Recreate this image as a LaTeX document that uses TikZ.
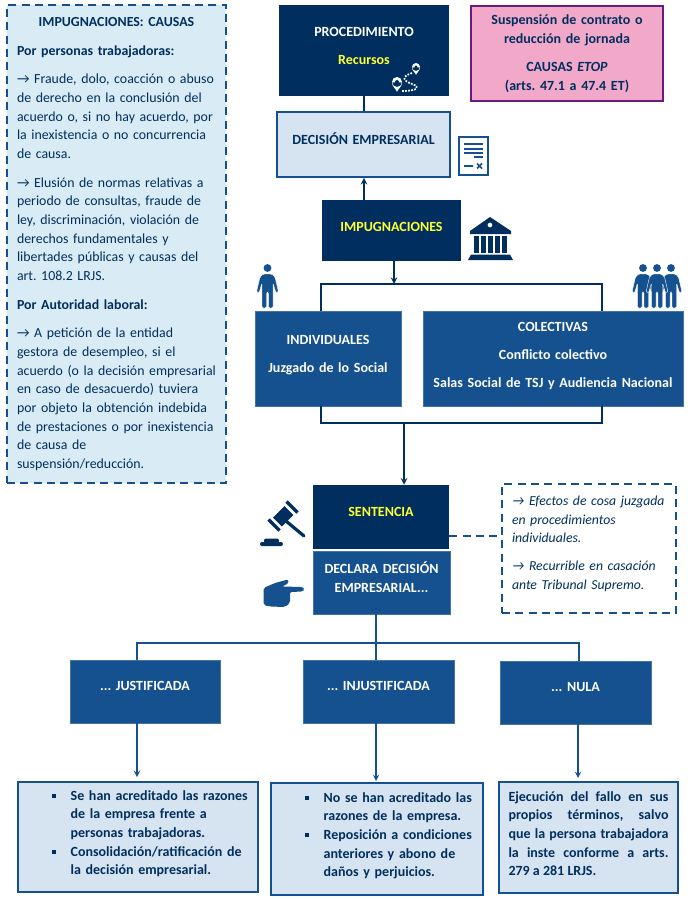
\documentclass[tikz,border=0pt]{standalone}
\usepackage{fontspec}
\setmainfont{Carlito}
\frenchspacing
\usetikzlibrary{positioning}
\definecolor{navy}{HTML}{002F5F}
\definecolor{midblue}{HTML}{15508F}
\definecolor{paleblue}{HTML}{D6E4F2}
\definecolor{skyblue}{HTML}{D9EBF5}
\definecolor{rosa}{HTML}{F2A9C9}
\definecolor{morado}{HTML}{6A1B80}
\definecolor{amarillo}{HTML}{FFFF33}
\tikzset{
  size/.style 2 args={minimum width=#1*0.75pt,minimum height=#2*0.75pt,text width=#1*0.75pt-4pt,inner xsep=2pt,inner ysep=0pt},
  lift/.style={execute at end node={\par\vspace*{#1}}},
  base/.style={align=center,font=\fontsize{10.5}{14}\selectfont\bfseries},
  darkbox/.style={base,fill=navy,text=white},
  midbox/.style={base,fill=midblue,draw=midblue!80,line width=0.6pt,text=white},
  palebox/.style={base,fill=paleblue,draw=midblue,line width=1.3pt,text=navy},
  notebox/.style={align=left,font=\fontsize{10.4}{14}\selectfont,text=navy,draw=midblue,dashed,line width=1.3pt,dash pattern=on 6pt off 4pt},
  line/.style={draw=navy,line width=1.2pt,>=stealth},
  thinline/.style={draw=midblue,line width=1.1pt,>=stealth},
  persona/.pic={
    \fill (0,0) circle (3.9);
    \path[fill,draw=white,line width=0.3pt,rounded corners=1pt] (-4.5,6) -- (4.5,6) -- (7.5,9) -- (11,24) -- (8.5,25) -- (5.5,15) -- (5.5,40) -- (1,40) -- (1,24) -- (-1,24) -- (-1,40) -- (-5.5,40) -- (-5.5,15) -- (-8.5,25) -- (-11,24) -- (-7.5,9) -- cycle;
  },
  pin/.pic={
    \fill[white] (0,0) circle (#1) (-#1,0.5) .. controls (-#1,#1) and (-0.3,#1*1.5) .. (0,#1*2) .. controls (0.3,#1*1.5) and (#1,#1) .. (#1,0.5) -- cycle;
    \fill[navy] (0,0) circle (#1*0.4);
  }
}
\begin{document}
\begin{tikzpicture}[x=0.75pt,y=-0.75pt]
  \useasboundingbox (0,0) rectangle (690,899);
  % cuadro de causas
  \node[notebox,fill=skyblue,minimum width=219*0.75pt,minimum height=478*0.75pt,text width=199*0.75pt,inner xsep=7.5pt,inner ysep=0pt] at (116.5,244) (causas) {%
    \makebox[\linewidth]{\textbf{IMPUGNACIONES: CAUSAS}}\\[7.5pt]
    \textbf{Por personas trabajadoras:}\\[7.5pt]
    → Fraude, dolo, coacción o abuso\\
    de derecho en la conclusión del\\
    acuerdo o, si no hay acuerdo, por\\
    la inexistencia o no concurrencia\\
    de causa.\\[7.5pt]
    → Elusión de normas relativas a\\
    periodo de consultas, fraude de\\
    ley, discriminación, violación de\\
    derechos fundamentales y\\
    libertades públicas y causas del\\
    art. 108.2 LRJS.\\[7.5pt]
    \textbf{Por Autoridad laboral:}\\[7.5pt]
    → A petición de la entidad\\
    gestora de desempleo, si el\\
    acuerdo (o la decisión empresarial\\
    en caso de desacuerdo) tuviera\\
    por objeto la obtención indebida\\
    de prestaciones o por inexistencia\\
    de causa de\\
    suspensión/reducción.};
  % parte de arriba
  \node[darkbox,size={170}{91},lift=7pt] at (364,50.5) (proced) {PROCEDIMIENTO\\[7pt]\textcolor{amarillo}{Recursos}};
  \node[base,fill=rosa,draw=morado,line width=1.3pt,text=navy,size={192}{95}] at (567,53.5) (etop) {Suspensión de contrato o\\reducción de jornada\\[7pt]CAUSAS \textit{ETOP}\\(arts. 47.1 a 47.4 ET)};
  \node[palebox,size={173}{65},lift=8pt] at (363.5,144.5) (decision) {DECISIÓN EMPRESARIAL};
  \node[darkbox,size={139}{61},text=amarillo,lift=6pt] at (391.5,230.5) (impug) {IMPUGNACIONES};
  \node[midbox,size={146}{95},lift=5pt] at (328,358.5) (indiv) {INDIVIDUALES\\[7pt]Juzgado de lo Social};
  \node[midbox,size={260}{95},lift=4pt] at (553,358.5) (colect) {COLECTIVAS\\[7pt]Conflicto colectivo\\[7pt]Salas Social de TSJ y Audiencia Nacional};
  \node[darkbox,size={136}{64},text=amarillo,lift=8pt] at (381,517) (sentencia) {SENTENCIA};
  \node[midbox,size={137}{63},lift=8pt] at (381.5,582.5) (declara) {DECLARA DECISIÓN\\EMPRESARIAL...};
  \node[notebox,size={174}{129},text width=154*0.75pt,inner xsep=7.5pt,lift=7pt,font=\fontsize{10.3}{14}\selectfont\itshape] at (589,548.5) (efectos) {→ Efectos de cosa juzgada\\en procedimientos\\individuales.\\[7pt]→ Recurrible en casación\\ante Tribunal Supremo.};
  % fallos
  \node[midbox,size={150}{63},lift=8pt] at (145,691.5) (just) {... JUSTIFICADA};
  \node[midbox,size={151}{63},lift=8pt] at (378.5,691.5) (injust) {... INJUSTIFICADA};
  \node[midbox,size={151}{63},lift=8pt] at (575.5,692.5) (nula) {... NULA};
  \node[palebox,size={240}{110},align=left,lift=5pt] at (138,837) (efecta) {%
    \hspace*{37.5pt}\llap{\rule[0.3ex]{3pt}{3pt}\hspace*{11pt}}Se han acreditado las razones\\
    \hspace*{37.5pt}de la empresa frente a\\
    \hspace*{37.5pt}personas trabajadoras.\\
    \hspace*{37.5pt}\llap{\rule[0.3ex]{3pt}{3pt}\hspace*{11pt}}Consolidación/ratificación de\\
    \hspace*{37.5pt}la decisión empresarial.};
  \node[palebox,size={212}{112},align=left,lift=5pt] at (377,839) (efectb) {%
    \hspace*{37.5pt}\llap{\rule[0.3ex]{3pt}{3pt}\hspace*{11pt}}No se han acreditado las\\
    \hspace*{37.5pt}razones de la empresa.\\
    \hspace*{37.5pt}\llap{\rule[0.3ex]{3pt}{3pt}\hspace*{11pt}}Reposición a condiciones\\
    \hspace*{37.5pt}anteriores y abono de\\
    \hspace*{37.5pt}daños y perjuicios.};
  \node[palebox,size={179}{111},text width=160*0.75pt,inner xsep=7pt,align=justify,lift=6pt] at (588.5,837.5) (efectc) {Ejecución del fallo en sus\linebreak propios términos, salvo\linebreak que la persona trabajadora\linebreak la inste conforme a arts.\linebreak 279 a 281 LRJS.};
  % puntos de paso
  \coordinate (bustop) at (394,284);
  \coordinate (busa) at (321,284);
  \coordinate (busb) at (602,284);
  \coordinate (lowa) at (321,423);
  \coordinate (lowb) at (602,423);
  \coordinate (lowm) at (404,423);
  \coordinate (enlace) at (502,536);
  \coordinate (fallo) at (376,643);
  \coordinate (falloa) at (137,643);
  \coordinate (falloc) at (579,643);
  \coordinate (tipa) at (137,777);
  \coordinate (tipb) at (376,781);
  \coordinate (tipc) at (578,778);
  % conectores
  \draw[line] (proced.south) -- (proced.south |- decision.north);
  \draw[line,->] (proced.south |- impug.north) -- (proced.south |- decision.south);
  \draw[line,->] (impug.south -| bustop) -- (bustop);
  \draw[line] (indiv.north -| busa) -- (busa) -- (busb) -- (colect.north -| busb);
  \draw[line] (indiv.south -| lowa) -- (lowa) -- (lowb) -- (colect.south -| lowb);
  \draw[line,->] (lowm) -- (lowm |- sentencia.north);
  \draw[notebox] (sentencia.east |- enlace) -- (enlace);
  \draw[thinline] (declara.south -| fallo) -- (fallo |- injust.north);
  \draw[thinline] (just.north -| falloa) -- (falloa) -- (falloc) -- (nula.north -| falloc);
  \draw[thinline,->] (just.south -| tipa) -- (tipa);
  \draw[thinline,->] (injust.south -| tipb) -- (tipb);
  \draw[thinline,->] (nula.south -| tipc) -- (tipc);
  % iconos
  \pic at (416,67) {pin={4}};
  \pic at (397,82) {pin={5}};
  \draw[white,line width=1.3pt,densely dotted] (412,73) .. controls (400,77) and (404,81) .. (412,84) .. controls (421,87) and (418,91) .. (402,91);
  \draw[midblue,fill=white,line width=2pt] (459,137) rectangle (488,175);
  \draw[midblue,line width=1pt] (464,144) -- (483,144) (464,149) -- (483,149) (464,153) -- (483,153) (474,157) -- (483,157);
  \draw[midblue,line width=1.3pt] (464,166) -- (473,166) (477,163.5) -- (482,168.5) (482,163.5) -- (477,168.5);
  \path[fill=navy,even odd rule] (490,217) -- (511,231) -- (511,234) -- (470,234) -- (470,231) -- cycle (490,225) circle (2.5);
  \foreach \colx in {474,481,488,495,502} \fill[navy] (\colx,236) rectangle +(5,17);
  \fill[navy] (471,254.5) -- (510,254.5) -- (513,260) -- (468,260) -- cycle;
  \pic[midblue] at (267.5,268) {persona};
  \pic[midblue] at (643,268) {persona};
  \pic[midblue] at (671,268) {persona};
  \pic[midblue] at (657,268) {persona};
  \draw[navy,line width=2.4pt] (268.5,519.5) -- (279.5,530.5) (286.5,501.5) -- (297.5,512.5);
  \draw[navy,line width=9.5pt] (277.5,522) -- (289,510.5);
  \draw[navy,line width=2.4pt,line cap=round] (286,521) -- (304,536);
  \fill[navy,rounded corners=1.5pt] (260,542) rectangle (283,546) (264,538.5) rectangle (279,543);
  \fill[midblue,rounded corners=1.5pt] (263.5,588) -- (275,583) -- (288,579.5) -- (289,583) -- (282,586.5) -- (303,587) -- (305,589) -- (303,591.5) -- (290,592) -- (290,603) -- (285,607) -- (270,606.5) -- (263.5,605) -- cycle;
\end{tikzpicture}
\end{document}
